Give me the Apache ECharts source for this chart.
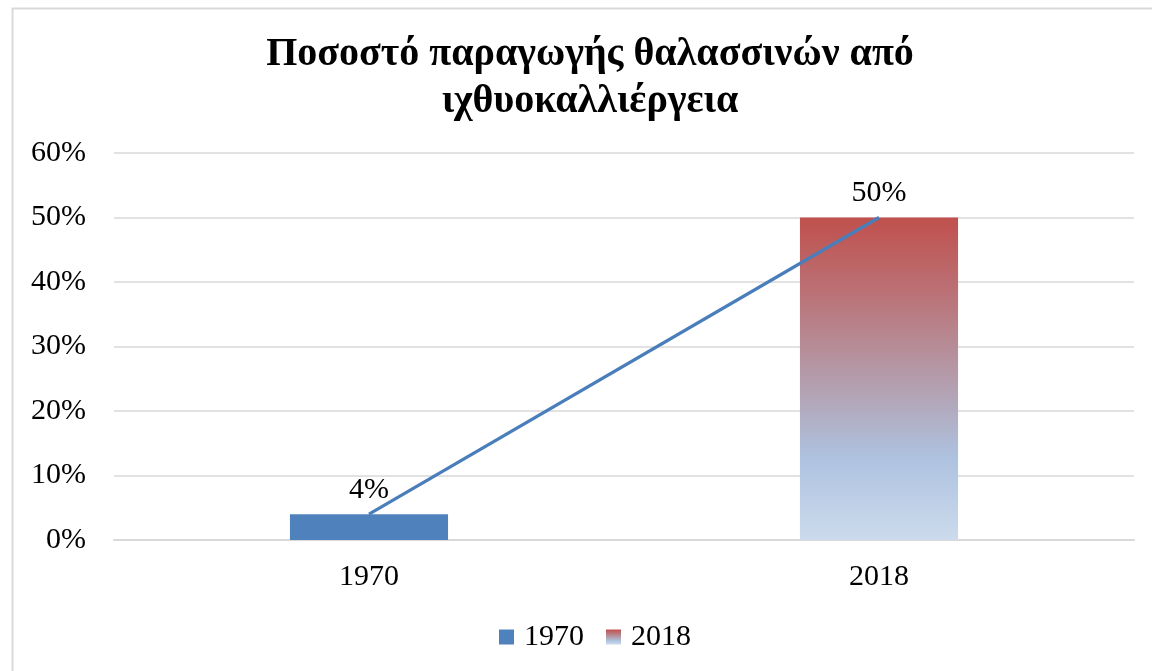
<!DOCTYPE html>
<html>
<head>
<meta charset="utf-8">
<script src="https://cdn.jsdelivr.net/npm/echarts@6/dist/echarts.min.js"></script>
<style>
html,body{margin:0;padding:0;background:#fff;}
#main{width:1152px;height:671px;}
</style>
</head>
<body>
<div id="main"></div>
<script>
const titleText = 'Ποσοστό παραγωγής θαλασσινών από\nιχθυοκαλλιέργεια';
const categories = ['1970', '2018'];
const values1970 = [4, '-'];
const values2018 = ['-', 50];
const lineValues = [4, 50];
const yTicks = { min: 0, max: 60, interval: 10 };

const font = '"Liberation Serif", "Times New Roman", serif';
const chart = echarts.init(document.getElementById('main'), null, { renderer: 'canvas' });
const grad = new echarts.graphic.LinearGradient(0, 0, 0, 1, [
  { offset: 0, color: '#C0504D' },
  { offset: 0.25, color: '#BA7479' },
  { offset: 0.5, color: '#B49CAB' },
  { offset: 0.75, color: '#AEC3E0' },
  { offset: 1, color: '#CCDAEC' }
]);
const labelStyle = { show: true, position: 'top', distance: 9, formatter: '{c}%', fontFamily: font, fontSize: 30, color: '#000' };
chart.setOption({
  backgroundColor: '#fff',
  animation: false,
  graphic: [{
    type: 'rect', left: 10, top: 6, z: -10,
    shape: { width: 1300, height: 800 },
    style: { fill: 'none', stroke: '#d9d9d9', lineWidth: 2 }
  }],
  title: {
    text: titleText, left: 585, top: 26, textAlign: 'center',
    textStyle: { fontFamily: font, fontWeight: 'bold', fontSize: 40, lineHeight: 47, color: '#000' }
  },
  legend: {
    bottom: 14, left: 494,
    data: ['1970', '2018'],
    icon: 'rect', itemWidth: 15, itemHeight: 15, itemGap: 22,
    textStyle: { fontFamily: font, fontSize: 30, color: '#000', padding: [0, 0, 0, 5] }
  },
  grid: { left: 114, right: 18, top: 153, bottom: 131 },
  xAxis: {
    type: 'category', data: categories,
    axisLine: { lineStyle: { color: '#d9d9d9', width: 2 } },
    axisTick: { show: false },
    axisLabel: { fontFamily: font, fontSize: 30, color: '#000', margin: 22 }
  },
  yAxis: {
    type: 'value', min: yTicks.min, max: yTicks.max, interval: yTicks.interval,
    axisLine: { show: false }, axisTick: { show: false },
    axisLabel: { formatter: '{value}%', fontFamily: font, fontSize: 30, color: '#000', margin: 28 },
    splitLine: { lineStyle: { color: '#d9d9d9', width: 1.5 } }
  },
  series: [
    { name: '1970', type: 'bar', stack: 'all', barWidth: '31%', data: values1970,
      itemStyle: { color: '#4F81BD' }, label: labelStyle },
    { name: '2018', type: 'bar', stack: 'all', barWidth: '31%', data: values2018,
      itemStyle: { color: grad }, label: labelStyle },
    { name: 'trend', type: 'line', data: lineValues, symbol: 'none', z: 5,
      lineStyle: { color: '#4A7EBB', width: 3.2 } }
  ]
});
</script>
</body>
</html>
